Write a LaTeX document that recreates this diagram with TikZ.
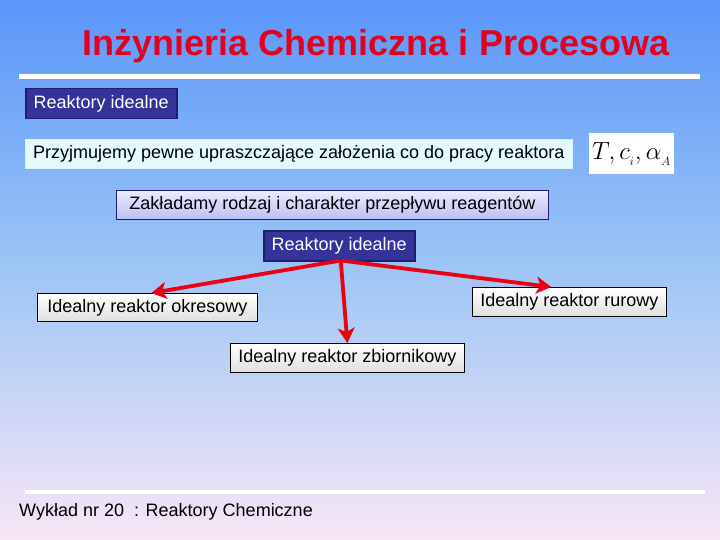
\documentclass[tikz,border=0pt]{standalone}
\usepackage{fontspec}
\setmainfont{Liberation Sans}
\usetikzlibrary{arrows.meta,shadings,calc}
\definecolor{bgtop}{RGB}{90,150,250}
\definecolor{bgmid}{RGB}{158,198,245}
\definecolor{bgbot}{RGB}{248,230,246}
\definecolor{titlered}{RGB}{228,0,30}
\definecolor{darkbox}{RGB}{51,51,153}
\definecolor{darkborder}{RGB}{30,30,110}
\definecolor{cyanbox}{RGB}{228,250,255}
\definecolor{lavtop}{RGB}{215,215,255}
\definecolor{lavbot}{RGB}{190,190,245}
\definecolor{arrowred}{RGB}{235,0,20}
\tikzset{
  txt/.style={font=\fontsize{18}{20}\selectfont},
  darkstyle/.style={txt, draw=darkborder, line width=1.5pt, fill=darkbox, text=white, inner sep=0pt, anchor=north west},
  graystyle/.style={txt, draw=black, line width=0.8pt, top color=white, bottom color=gray!25, inner sep=0pt, anchor=north west},
  redarrow/.style={draw=arrowred, line width=3.8pt, -{Stealth[length=15pt,width=17pt,inset=4pt]}},
}
\begin{document}
\begin{tikzpicture}[x=1pt,y=-1pt]
\shade[top color=bgtop, bottom color=bgbot, middle color=bgmid] (0,0) rectangle (720,540);
\useasboundingbox (0,0) rectangle (720,540);
\node[font=\fontsize{36}{40}\bfseries\selectfont, text=titlered] (title) at (376,46) {Inżynieria Chemiczna i Procesowa};
\draw[white, line width=5pt] (19,77) -- (700,77);
\node[darkstyle, minimum width=151pt, minimum height=30pt] (r1) at (25,88) {Reaktory idealne};
\node[txt, draw=white!85!cyan, line width=0.5pt, fill=cyanbox, inner sep=0pt, anchor=north west, minimum width=547pt, minimum height=29pt] (p) at (25,139) {Przyjmujemy pewne upraszczające założenia co do pracy reaktora};
\node[fill=white, anchor=north west, minimum width=85pt, minimum height=41pt, inner sep=0pt, font=\fontsize{23}{26}\selectfont] (m) at (589,133) {$T,c_{{}_{i}},\alpha_{{}_{A}}$};
\node[txt, draw=darkborder, line width=0.8pt, top color=lavtop!50!white, bottom color=lavbot, anchor=north west, minimum width=432pt, minimum height=29pt, inner sep=0pt] (z) at (116,190) {Zakładamy rodzaj i charakter przepływu reagentów};
\node[darkstyle, minimum width=151pt, minimum height=30pt] (r2) at (263,230) {Reaktory idealne};
\node[graystyle, minimum width=220pt, minimum height=28pt] (o) at (37,293) {Idealny reaktor okresowy};
\node[graystyle, minimum width=234pt, minimum height=29pt] (zb) at (230,343) {Idealny reaktor zbiornikowy};
\node[graystyle, minimum width=194pt, minimum height=29pt] (ru) at (472,287) {Idealny reaktor rurowy};
\coordinate (s) at ($(r2.south)+(1.5,-1)$);
\draw[redarrow] (s) -- ($(o.north west)!0.518!(o.north east)$);
\draw[redarrow] (s) -- ($(zb.north west)!0.5!(zb.north east)$);
\draw[redarrow] (s) -- ($(ru.north west)!0.407!(ru.north east)$);
\draw[white, line width=4pt] (25,492) -- (705,492);
\node[txt, anchor=west, inner sep=0pt] (f) at (19,512) {Wykład nr 20\ \ : Reaktory Chemiczne};
\end{tikzpicture}
\end{document}
